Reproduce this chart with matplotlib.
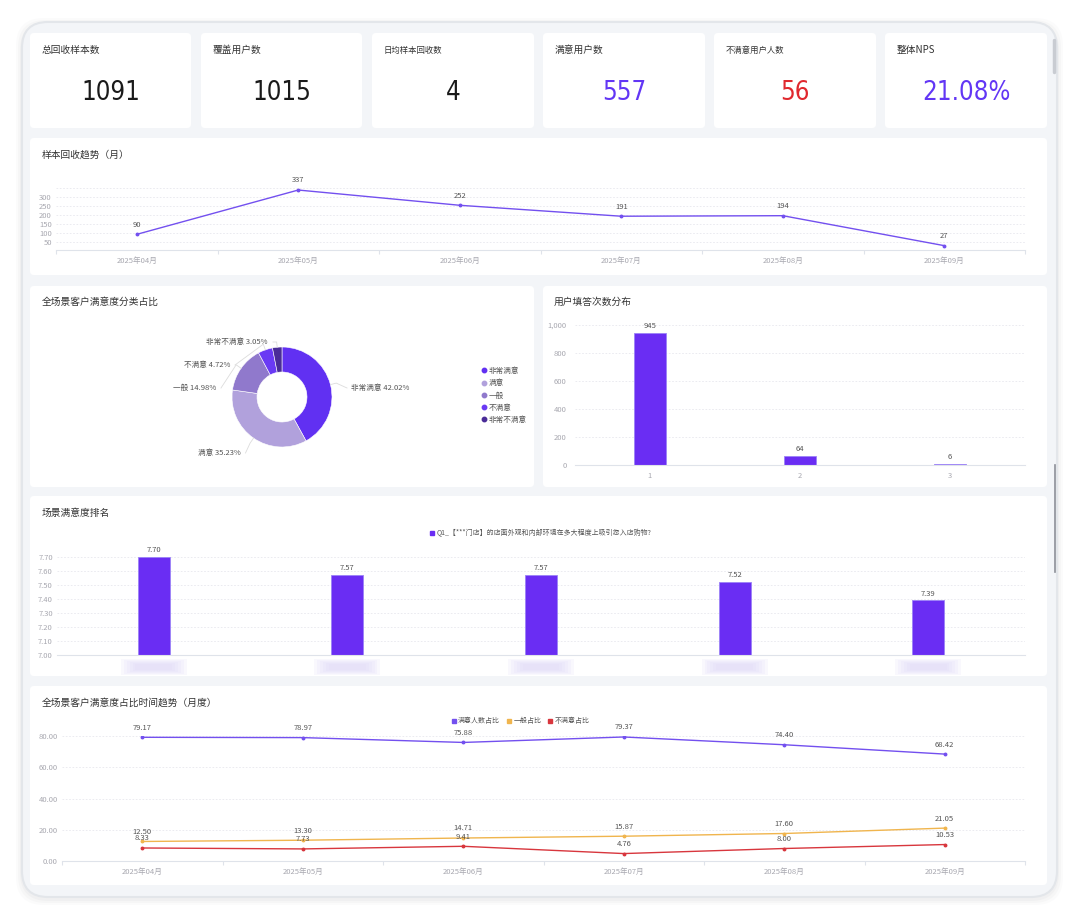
import numpy as np
import matplotlib
matplotlib.use("Agg")
import matplotlib.pyplot as plt
from matplotlib.patches import FancyBboxPatch, Rectangle
from matplotlib.lines import Line2D
from matplotlib.ticker import FuncFormatter
from matplotlib.transforms import blended_transform_factory

plt.rcParams['font.family'] = ['Noto Sans CJK SC', 'DejaVu Sans']

# ---- data ----
kpi_titles = ["总回收样本数", "覆盖用户数", "日均样本回收数", "满意用户数", "不满意用户人数", "整体NPS"]
kpi_values = ["1091", "1015", "4", "557", "56", "21.08%"]

months = ["2025年04月", "2025年05月", "2025年06月", "2025年07月", "2025年08月", "2025年09月"]
monthly_samples = [90, 337, 252, 191, 194, 27]

sat_levels = ["非常满意", "满意", "一般", "不满意", "非常不满意"]
sat_share = [42.02, 35.23, 14.98, 4.72, 3.05]

fill_times = ["1", "2", "3"]
fill_counts = [945, 64, 6]

scene_question = "Q1_【***门店】的店面外观和内部环境在多大程度上吸引您入店购物?"
scene_scores = [7.70, 7.57, 7.57, 7.52, 7.39]

trend_names = ["满意人数占比", "一般占比", "不满意占比"]
trend_satisfied = [79.17, 78.97, 75.88, 79.37, 74.40, 68.42]
trend_neutral = [12.50, 13.30, 14.71, 15.87, 17.60, 21.05]
trend_unsatisfied = [8.33, 7.73, 9.41, 4.76, 8.00, 10.53]

# ---- style ----
W, H = 1080, 919
PURPLE = "#6a2df3"
LINE_PURPLE = "#7350ef"
ORANGE = "#f0b54e"
RED = "#d8363d"
GRID = "#e8e8ee"
TICK = "#a8a8b0"
LABEL = "#555555"
kpi_colors = ["#1a1a1a", "#1a1a1a", "#1a1a1a", "#6236f5", "#e0282e", "#6236f5"]
sat_colors = ["#6130f2", "#b1a1dc", "#9079cc", "#6a3af4", "#4a2c98"]
trend_colors = [LINE_PURPLE, ORANGE, RED]

fig = plt.figure(figsize=(W / 100, H / 100), dpi=100)
fig.patch.set_facecolor("white")


def frac(x0, y0, x1, y1):
    return [x0 / W, 1 - y1 / H, (x1 - x0) / W, (y1 - y0) / H]


bg = fig.add_axes([0, 0, 1, 1])
bg.set_xlim(0, W)
bg.set_ylim(H, 0)
bg.axis("off")

# device frame with soft shadow
for i, a in enumerate([0.04, 0.05, 0.06]):
    pad = 6 - 2 * i
    bg.add_patch(FancyBboxPatch((22 - pad, 24 - pad), 1035 + 2 * pad, 875 + 2 * pad,
                                boxstyle="round,pad=0,rounding_size=28", fc="#9aa0aa",
                                ec="none", alpha=a, zorder=0))
bg.add_patch(FancyBboxPatch((22, 22), 1035, 875, boxstyle="round,pad=0,rounding_size=26",
                            fc="#f3f5f8", ec="#e3e6ea", lw=1.5, zorder=1))
# scrollbar
bg.plot([1054, 1054], [40, 72], color="#c9ccd2", lw=2.5, solid_capstyle="round", zorder=2)
bg.plot([1055, 1055], [465, 572], color="#8d9098", lw=1.2, zorder=2)


def card(x0, y0, x1, y1):
    bg.add_patch(FancyBboxPatch((x0, y0), x1 - x0, y1 - y0,
                                boxstyle="round,pad=0,rounding_size=4",
                                fc="white", ec="none", zorder=2))


# KPI cards
kpi_x = [(30, 191), (201, 362), (372, 534), (543, 705), (714, 876), (885, 1047)]
for (x0, x1), t, v, c in zip(kpi_x, kpi_titles, kpi_values, kpi_colors):
    card(x0, 33, x1, 128)
    bg.text(x0 + 12, 50, t, fontsize=6 if len(t) > 6 else 7, color="#333333",
            va="center", zorder=3)
    bg.text((x0 + x1) / 2, 93, v, fontsize=18.5, color=c, ha="center", va="center",
            family="DejaVu Sans", fontstretch="condensed", zorder=3)

# other cards and titles
card(30, 138, 1047, 275)
card(30, 286, 534, 487)
card(543, 286, 1047, 487)
card(30, 496, 1047, 676)
card(30, 686, 1047, 885)
for x, y, t in [(42, 155, "样本回收趋势（月）"), (42, 302, "全场景客户满意度分类占比"),
                (554, 302, "用户填答次数分布"), (42, 513, "场景满意度排名"),
                (42, 703, "全场景客户满意度占比时间趋势（月度）")]:
    bg.text(x, y, t, fontsize=7, color="#333333", va="center", zorder=3)


def style_axis(ax, ylabels_fmt=None):
    ax.set_facecolor("none")
    for s in ["top", "right", "left"]:
        ax.spines[s].set_visible(False)
    ax.spines["bottom"].set_color("#dfe3ea")
    ax.spines["bottom"].set_linewidth(0.8)
    ax.yaxis.grid(True, ls=(0, (2, 2)), color=GRID, lw=0.6)
    ax.set_axisbelow(True)
    ax.tick_params(axis="y", length=0, labelsize=5.5, labelcolor=TICK, pad=3)
    ax.tick_params(axis="x", which="major", length=0, labelsize=5.5, labelcolor=TICK, pad=5)
    ax.tick_params(axis="x", which="minor", length=3, color="#dfe3ea", width=0.8)
    if ylabels_fmt is not None:
        ax.yaxis.set_major_formatter(FuncFormatter(ylabels_fmt))


# ---- monthly sample trend ----
ax1 = fig.add_axes(frac(56, 187.7, 1025, 250.5))
x = np.arange(len(months))
ax1.plot(x, monthly_samples, color=LINE_PURPLE, lw=1, marker="o", ms=1.8)
for xi, v in zip(x, monthly_samples):
    ax1.annotate(str(v), (xi, v), xytext=(0, 4), textcoords="offset points",
                 ha="center", va="bottom", fontsize=5.5, color=LABEL)
ax1.set_xlim(-0.5, len(months) - 0.5)
ax1.set_ylim(0, 350)
ax1.set_yticks(np.arange(0, 351, 50))
style_axis(ax1, lambda v, p: "" if v in (0, 350) else f"{v:.0f}")
ax1.set_xticks(x)
ax1.set_xticklabels(months)
ax1.set_xticks(np.arange(-0.5, len(months)), minor=True)

# ---- donut ----
axd = fig.add_axes(frac(232, 347, 332, 447))
wedges, _ = axd.pie(sat_share, colors=sat_colors, startangle=90, counterclock=False,
                    radius=1, wedgeprops=dict(width=0.5, edgecolor="white", linewidth=0.4))
axd.set_xlim(-1, 1)
axd.set_ylim(-1, 1)
axd.set_aspect("auto")
axd.axis("off")
label_pos = [(1.38, 0.18, "left"), (-0.83, -1.12, "right"), (-1.32, 0.18, "right"),
             (-1.04, 0.64, "right"), (-0.28, 1.10, "right")]
for w, name, val, (lx, ly, ha) in zip(wedges, sat_levels, sat_share, label_pos):
    th = np.deg2rad((w.theta1 + w.theta2) / 2)
    ex, ey = np.cos(th), np.sin(th)
    end_x = lx - 0.08 if ha == "left" else lx + 0.1
    axd.plot([ex, 1.12 * ex, end_x], [ey, 1.12 * ey if abs(ly - 1.12 * ey) > 0.05 else ly, ly],
             color="#dcdcdc", lw=0.6, clip_on=False)
    axd.text(lx, ly, f"{name} {val:.2f}%", ha=ha, va="center", fontsize=5.5,
             color=LABEL, clip_on=False)
handles = [Line2D([], [], marker="o", ls="", color=c, ms=3.2) for c in sat_colors]
fig.legend(handles, sat_levels, loc="upper left", bbox_to_anchor=(476 / W, 1 - 364 / H),
           frameon=False, fontsize=5.5, handletextpad=0.1, labelspacing=0.55,
           handlelength=1.2, labelcolor="#555555", borderaxespad=0)

# ---- fill count bar ----
axb = fig.add_axes(frac(575, 325, 1025, 465))
xb = np.arange(len(fill_times))
bars = axb.bar(xb, fill_counts, width=0.213, color=PURPLE, edgecolor="#9b82f7", lw=0.6)
axb.bar_label(bars, padding=2, fontsize=5.5, color=LABEL)
axb.set_xlim(-0.5, len(fill_times) - 0.5)
axb.set_ylim(0, 1000)
axb.set_yticks(np.arange(0, 1001, 200))
style_axis(axb, lambda v, p: f"{v:,.0f}")
axb.set_xticks(xb)
axb.set_xticklabels(fill_times)
axb.tick_params(axis="y", pad=6)

# ---- scene ranking ----
axr = fig.add_axes(frac(57, 557, 1025, 655))
xr = np.arange(len(scene_scores))
bars = axr.bar(xr, scene_scores, width=0.165, color=PURPLE, edgecolor="#9b82f7", lw=0.6)
axr.bar_label(bars, fmt="%.2f", padding=2, fontsize=5.5, color=LABEL)
axr.set_xlim(-0.5, len(scene_scores) - 0.5)
axr.set_ylim(7.0, 7.7)
axr.set_yticks(np.arange(7.0, 7.71, 0.1))
style_axis(axr, lambda v, p: f"{v:.2f}")
axr.set_xticks(xr)
axr.set_xticklabels([])
# blurred (masked) category labels
tr = blended_transform_factory(axr.transData, axr.transAxes)
for xi in xr:
    for k in range(6):
        wdt = 0.34 - 0.03 * k
        hgt = 0.16 - 0.02 * k
        axr.add_patch(Rectangle((xi - wdt / 2, -0.12 - hgt / 2), wdt, hgt,
                                transform=tr, fc="#ddd5f7", ec="none", alpha=0.16,
                                clip_on=False))
fig.legend([Line2D([], [], marker="s", ls="", color=PURPLE, ms=3)], [scene_question],
           loc="center", bbox_to_anchor=(540 / W, 1 - 533 / H), frameon=False,
           fontsize=5, handletextpad=0.2, handlelength=1, labelcolor="#555555")

# ---- monthly satisfaction trend ----
axl = fig.add_axes(frac(62, 736, 1025, 861))
xl = np.arange(len(months))
for series, c in zip([trend_satisfied, trend_neutral, trend_unsatisfied], trend_colors):
    axl.plot(xl, series, color=c, lw=1, marker="o", ms=1.8)
    for xi, v in zip(xl, series):
        axl.annotate(f"{v:.2f}", (xi, v), xytext=(0, 4), textcoords="offset points",
                     ha="center", va="bottom", fontsize=5.5, color=LABEL,
                     annotation_clip=False)
axl.set_xlim(-0.5, len(months) - 0.5)
axl.set_ylim(0, 80)
axl.set_yticks(np.arange(0, 81, 20))
style_axis(axl, lambda v, p: f"{v:.2f}")
axl.set_xticks(xl)
axl.set_xticklabels(months)
axl.set_xticks(np.arange(-0.5, len(months)), minor=True)
handles = [Line2D([], [], marker="s", ls="", color=c, ms=3) for c in trend_colors]
fig.legend(handles, trend_names, loc="center", ncol=3, bbox_to_anchor=(520 / W, 1 - 721 / H),
           frameon=False, fontsize=5, handletextpad=0.1, handlelength=1,
           columnspacing=0.8, labelcolor="#555555")

fig.savefig("out.png", dpi=100, facecolor="white")
